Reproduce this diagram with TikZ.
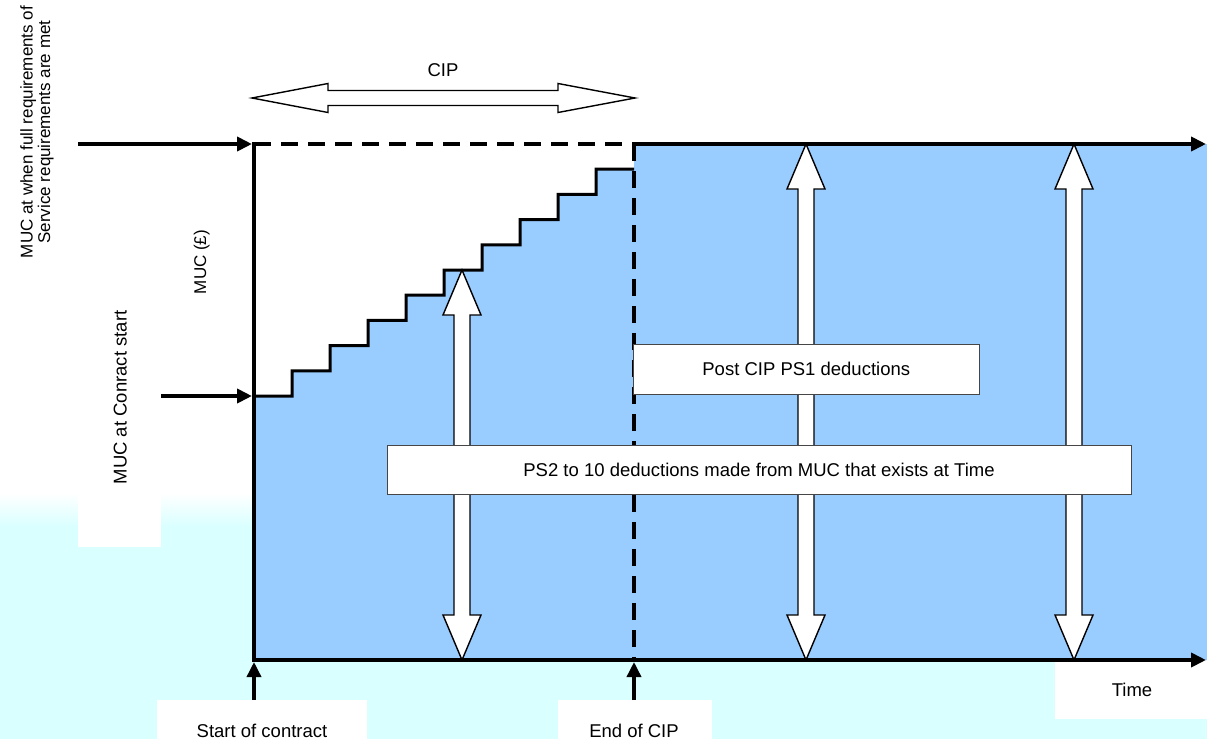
\documentclass[tikz,border=0pt]{standalone}
\usepackage{fontspec}
\setmainfont{Liberation Sans}
\usetikzlibrary{arrows.meta}
\definecolor{mucblue}{RGB}{153,204,255}
\definecolor{bgcyan}{RGB}{217,255,255}
\definecolor{boxline}{RGB}{70,70,70}
\begin{document}
\begin{tikzpicture}[x=1pt,y=-1pt,
  axis/.style={line width=4pt},
  tipped/.style={-{Triangle[length=15pt,width=14pt]}},
  dashline/.style={line width=4pt, dash pattern=on 17pt off 10pt},
  blockarr/.style={draw=black, line width=1.4pt, fill=white, line join=miter},
  lbl/.style={font=\fontsize{18.5}{22}\selectfont, inner sep=0pt},
  small/.style={font=\fontsize{17}{17.5}\selectfont, inner sep=0pt},
  whitebox/.style={fill=white, draw=none, inner sep=0pt},
  dedbox/.style={draw=boxline, line width=1pt, fill=white, inner sep=0pt,
    font=\fontsize{18.5}{22}\selectfont}
]
\useasboundingbox (0,0) rectangle (1207,739);
% background
\fill[white] (0,0) rectangle (1207,739);
\shade[top color=white, bottom color=bgcyan] (0,493) rectangle (1207,527);
\fill[bgcyan] (0,527) rectangle (1207,739);

% key coordinates
\coordinate (O) at (254,660);
\coordinate (Ytop) at (254,144);
\coordinate (Ystart) at (254,396);
\coordinate (Ecip) at (634,660);
\coordinate (EcipTop) at (634,144);
\coordinate (Xend) at (1206,660);
\coordinate (Tend) at (1206,144);
\coordinate (FullFrom) at (78,144);
\coordinate (StartFrom) at (161,396);
\coordinate (SoCfrom) at (254,700);
\coordinate (EoCfrom) at (634,700);

% white label boxes
\node[whitebox, anchor=south west, minimum width=83pt, minimum height=250pt] (mucbox) at (78,547) {};
\node[whitebox, anchor=north west, minimum width=210pt, minimum height=40pt] (socbox) at (157,700) {};
\node[whitebox, anchor=north west, minimum width=154pt, minimum height=40pt] (eocbox) at (558,700) {};
\node[whitebox, anchor=north west, minimum width=152pt, minimum height=59pt] (timebox) at (1055,660) {};

% blue area
\fill[mucblue] (254,660) -- (254,396)
  \foreach \k in {1,...,9} { -- ({254+38*\k},{396-25.2*(\k-1)}) -- ({254+38*\k},{396-25.2*\k}) }
  -- (634,169.2) -- (634,144) -- (1207,144) -- (1207,660) -- cycle;

% vertical double block arrows
\foreach \c/\t in {462/270, 806/144, 1074/144} {
  \draw[blockarr] (\c,\t) -- ({\c+19},{\t+45}) -- ({\c+8},{\t+45}) -- ({\c+8},615)
    -- ({\c+19},615) -- (\c,660) -- ({\c-19},615) -- ({\c-8},615) -- ({\c-8},{\t+45})
    -- ({\c-19},{\t+45}) -- cycle;
}
% CIP double block arrow
\draw[blockarr] (252,98) -- (328,83.5) -- (328,90.5) -- (558,90.5) -- (558,83.5)
  -- (635,98) -- (558,112.5) -- (558,105.5) -- (328,105.5) -- (328,112.5) -- cycle;

% staircase
\draw[line width=3pt, line join=miter] (254,396)
  \foreach \k in {1,...,9} { -- ({254+38*\k},{396-25.2*(\k-1)}) -- ({254+38*\k},{396-25.2*\k}) }
  -- (634,169.2);

% axes
\draw[dashline] (Ytop) -- (EcipTop);
\draw[dashline] (EcipTop) -- (Ecip);
\draw[axis] (254,142) -- (254,662);
\draw[axis, tipped] (O) -- (Xend);
\draw[axis, tipped] (EcipTop) -- (Tend);
\draw[axis, tipped, shorten >=2pt] (FullFrom) -- (Ytop);
\draw[axis, tipped, shorten >=2pt] (StartFrom) -- (Ystart);
\draw[line width=3.5pt, tipped, shorten >=2pt] (SoCfrom) -- (O);
\draw[line width=3.5pt, tipped, shorten >=2pt] (EoCfrom) -- (Ecip);

% deduction boxes
\node[dedbox, minimum width=345.5pt, minimum height=50pt] (post) at (806.25,369.3) {Post CIP PS1 deductions};
\node[dedbox, minimum width=744pt, minimum height=49pt] (ps2) at (759,469.5) {PS2 to 10 deductions made from MUC that exists at Time};

% labels
\node[lbl] (cip) at (443,70) {CIP};
\node[lbl, anchor=base] (soc) at (262,737) {Start of contract};
\node[lbl, anchor=base] (eoc) at (634,737) {End of CIP};
\node[lbl, anchor=base] (time) at (1132,696) {Time};
\node[lbl, rotate=90, anchor=base] (mucstart) at (126.7,397.5) {MUC at Conract start};
\node[small, rotate=90, anchor=base] (mucaxis) at (206,262) {MUC (£)};
\node[small, rotate=90, align=center] (mucfull) at (37,132) {MUC at when full requirements of\\Service requirements are met};
\end{tikzpicture}
\end{document}
